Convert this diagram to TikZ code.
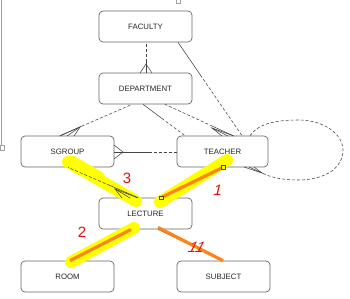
\documentclass[tikz,border=0pt]{standalone}
\usepackage{fontspec}
\setsansfont{Liberation Sans}
\usetikzlibrary{calc}
\definecolor{boxline}{HTML}{666666}
\definecolor{conncol}{HTML}{444444}
\definecolor{hlyellow}{HTML}{FFFF00}
\definecolor{hlorange}{HTML}{FF8418}
\definecolor{penred}{HTML}{E01010}
\definecolor{handle}{HTML}{A0A0A0}
\newcommand\mixline[3]{%
  \draw[conn] (#1) -- ($(#1)!#3!(#2)$);
  \draw[conn,dsh] ($(#1)!#3!(#2)$) -- (#2);}
\newcommand\crowfoot[4]{%
  \draw[conn] (#2) -- (#1) -- (#3); \draw[conn] (#1) -- (#4);}
\begin{document}
\begin{tikzpicture}[x=1pt,y=-1pt,
  ent/.style={draw=boxline, fill=white, rounded corners=4pt, minimum width=93pt,
    minimum height=31pt, inner sep=0pt, line width=0.7pt,
    font=\sffamily\fontsize{7.8}{9}\selectfont, text=black!85},
  conn/.style={draw=conncol, line width=0.55pt},
  dsh/.style={dash pattern=on 3pt off 2pt},
  hl/.style={draw=hlyellow, line width=12pt, line cap=round},
  orl/.style={draw=hlorange, line width=3.2pt},
  pen/.style={text=penred, inner sep=0pt, font=\sffamily\fontsize{15}{15}\selectfont},
  endsq/.style={draw=conncol, fill=hlyellow, line width=0.5pt}]
\useasboundingbox (0,0) rectangle (350,298);
\fill[white] (0,0) rectangle (350,298);

% screenshot handles
\draw[handle, line width=0.7pt] (1.5,0) -- (1.5,146);
\draw[handle, fill=white, line width=0.6pt] (0,145.5) rectangle (4,150.5);
\draw[handle, fill=white, line width=0.6pt] (176,-1) rectangle (180.5,3);

% entities
\node[ent] (fac)  at (145.5,26.5)  {FACULTY};
\node[ent] (dep)  at (145.5,88.5)  {DEPARTMENT};
\node[ent] (sgr)  at (67.5,151.5)  {SGROUP};
\node[ent, minimum width=91pt] (tea) at (222.5,151.5) {TEACHER};
\node[ent] (lec)  at (145.5,213.5) {LECTURE};
\node[ent] (room) at (67.5,276.5)  {ROOM};
\node[ent] (subj) at (223.5,276.5) {SUBJECT};

% connector end points
\coordinate (f1) at ($(fac.south)+(0.5,0)$);
\coordinate (d1) at ($(dep.north)+(0.5,0)$);
\coordinate (f2) at ($(fac.south)+(32.5,0)$);
\coordinate (t2) at ($(tea.north)+(19.5,0)$);
\coordinate (d3) at ($(dep.south)+(-13.5,0)$);
\coordinate (s3) at ($(sgr.north)+(-7.5,0)$);
\coordinate (d4) at ($(dep.south)+(-2.5,0)$);
\coordinate (t4) at ($(tea.north)+(-37.5,0)$);
\coordinate (d5) at ($(dep.south)+(19.5,0)$);
\coordinate (t5) at ($(tea.north)+(10.5,0)$);
\coordinate (s6) at ($(sgr.east)+(0,0.5)$);
\coordinate (t6) at ($(tea.west)+(0,0.5)$);
\coordinate (s7) at ($(sgr.south)+(0.5,0)$);
\coordinate (l7) at ($(lec.north)+(-7.5,0)$);
\coordinate (t8) at ($(tea.south)+(0.5,0)$);
\coordinate (l8) at ($(lec.north)+(15.5,0)$);
\coordinate (l9) at ($(lec.south)+(-14.5,0)$);
\coordinate (r9) at ($(room.north)+(2.5,0)$);
\coordinate (l10) at ($(lec.south)+(12.5,0)$);
\coordinate (u10) at ($(subj.north)+(-0.5,0)$);
\coordinate (ta) at ($(tea.north)+(27.5,0)$);
\coordinate (tb) at ($(tea.south east)+(-5.5,6)$);

% yellow highlighter
\draw[hl] (68,162) -- (136,201);
\draw[hl, line width=9pt] (72,160) -- (100,176);
\draw[hl] (160,202) -- (227,160);
\draw[hl] (71,262) -- (134,228);

% relationships
\mixline{d1}{f1}{0.35}
\mixline{f2}{t2}{0.35}
\mixline{s3}{d3}{0.3}
\mixline{d4}{t4}{0.45}
\mixline{t5}{d5}{0.3}
\mixline{s6}{t6}{0.55}
\mixline{l7}{s7}{0.4}
\draw[conn] (t8) -- (l8);
\draw[conn] (l9) -- (r9);
\draw[conn] (l10) -- (u10);
\draw[conn,dsh] (ta) .. controls (258,124) and (275,120) .. (298,120)
  .. controls (325,120) and (343,135) .. (343,150)
  .. controls (343,168) and (325,180) .. (298,180)
  .. controls (282,180) and (270,177) .. (tb);

% crow's feet
\crowfoot{146,64}{140,73}{152,73}{146,73}
\crowfoot{80,127}{60,136}{74,136}{67,136}
\crowfoot{212,128}{222,136}{234,136}{228,136}
\crowfoot{123,152}{114,145}{114,159}{114,152}
\crowfoot{115,189}{122,198}{138,198}{130,198}
\crowfoot{262,173}{244,167}{254,167}{249,167}

% orange pen lines
\draw[orl] (l8) -- (t8);
\draw[orl] (131,229.5) -- (r9);
\draw[orl] (158,227.5) -- (u10);
\draw[endsq] ($(t8)+(-1.8,-1.8)$) rectangle ($(t8)+(1.8,1.8)$);
\draw[endsq] ($(l8)+(-1.8,-1.8)$) rectangle ($(l8)+(1.8,1.8)$);

% red handwritten marks
\node[pen] (n3) at (127,178) {3};
\node[pen, xslant=0.25] (n1) at (218,190) {1};
\node[pen] (n2) at (82,232) {2};
\node[pen, xslant=0.5] (n11) at (197,247) {11};
\end{tikzpicture}
\end{document}
